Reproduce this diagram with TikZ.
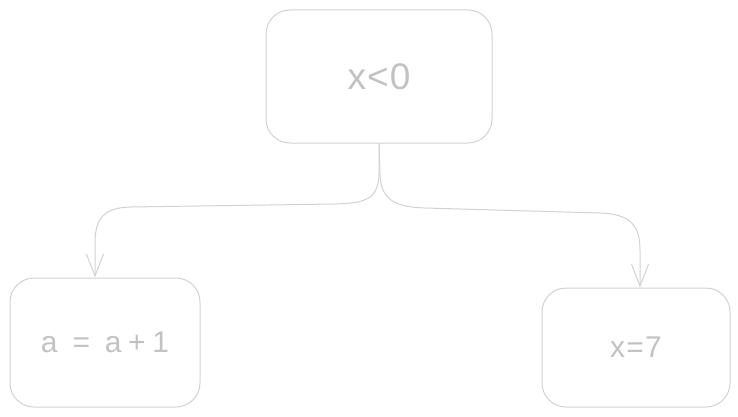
\documentclass[tikz,border=0pt]{standalone}
\usepackage{fontspec}
\setmainfont{Liberation Sans}
\usetikzlibrary{arrows.meta}
\definecolor{ln}{HTML}{D2D2D2}
\definecolor{tx}{HTML}{C2C2C2}
\begin{document}
\begin{tikzpicture}[x=1pt,y=-1pt,
  box/.style={draw=ln, line width=1pt, rounded corners=24pt, text=tx, inner sep=0pt},
  conn/.style={draw=ln, line width=1pt, -{Straight Barb[length=22pt,width=17pt]}}]
\useasboundingbox (0,0) rectangle (738,417);
\node[box, minimum width=226pt, minimum height=133pt, font=\fontsize{37}{37}\selectfont\addfontfeatures{LetterSpace=3}] (top) at (379,76.5) {x<0};
\node[box, minimum width=190pt, minimum height=129pt, font=\fontsize{30}{30}\selectfont\addfontfeatures{LetterSpace=22}] (left) at (105,342.5) {a = a+1};
\node[box, minimum width=188pt, minimum height=119pt, font=\fontsize{30}{30}\selectfont\addfontfeatures{LetterSpace=4}] (right) at (636,347.5) {x=7};
\draw[conn] (top.south) -- (379,172) .. controls (379,200) and (365,203) .. (335,204) -- (130,207) .. controls (100,208) and (95,222) .. (95,245) -- (95,0 |- left.north);
\draw[conn] (top.south) -- (380,172) .. controls (380,200) and (395,207) .. (425,208) -- (600,213) .. controls (630,214) and (640,225) .. (640,250) -- (640,0 |- right.north);
\end{tikzpicture}
\end{document}
